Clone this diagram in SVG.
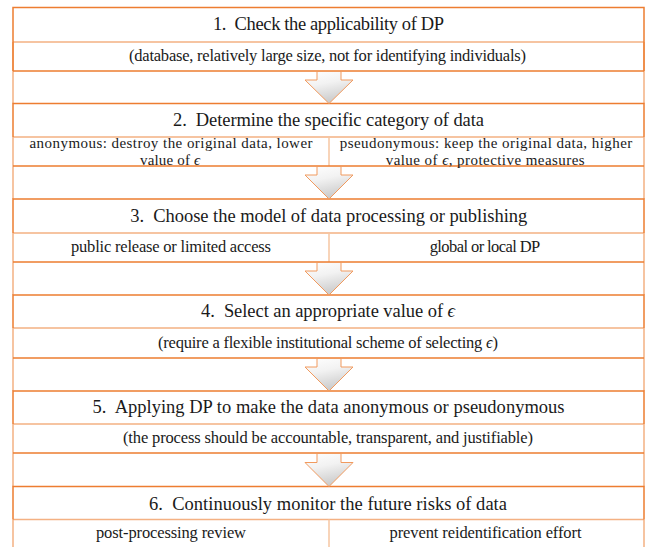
<svg xmlns="http://www.w3.org/2000/svg" width="648" height="547" viewBox="0 0 648 547">
  <style>
    text { font-family: "Liberation Serif", "DejaVu Serif", serif; fill: #1a1a1a; text-anchor: middle; }
    .h { font-size: 18.5px; }
    .s { font-size: 16.5px; }
    .s2 { font-size: 15px; }
    .e { font-style: italic; }
    .rule { stroke: #ED7D31; stroke-width: 1.5; fill: none; }
    .thin { stroke: #F4B183; stroke-width: 1.5; fill: none; }
    .div { stroke: #F6C6A2; stroke-width: 1.5; }
    .arrow { fill: url(#arrowFill); stroke: #F19A5E; stroke-width: 1; stroke-linejoin: miter; }
  </style>
  <defs>
    <linearGradient id="arrowFill" x1="0" y1="0" x2="0.3" y2="1">
      <stop offset="0" stop-color="#FFFFFF"/>
      <stop offset="0.45" stop-color="#F2F2F2"/>
      <stop offset="1" stop-color="#CCCCCC"/>
    </linearGradient>
  </defs>
  <rect width="648" height="547" fill="#FFFFFF"/>

  <!-- empty spacer rows holding the down arrows -->
  <g id="spacers" class="thin">
    <path d="M13,71V103.5M644,71V103.5"/>
    <path d="M13,166V199M644,166V199"/>
    <path d="M13,262V295M644,262V295"/>
    <path d="M13,358V391M644,358V391"/>
    <path d="M13,453V486.5M644,453V486.5"/>
  </g>

  <g id="step1">
    <path class="thin" d="M13,42V71M644,42V71M13,42H644"/>
    <path class="rule" d="M13,71V7.5H644V71M13,71H644"/>
    <text class="h" x="328.5" y="29.5" textLength="231">1.&#160; Check the applicability of DP</text>
    <text class="s" x="327.5" y="60.5" textLength="397">(database, relatively large size, not for identifying individuals)</text>
  </g>

  <g id="step2">
    <path class="thin" d="M13,137V166M644,137V166M13,137H644"/>
    <path class="div" d="M329,137V166"/>
    <path class="rule" d="M13,137V103.5H644V137M13,166H644"/>
    <text class="h" x="328.5" y="126" textLength="311">2.&#160; Determine the specific category of data</text>
    <!-- two-line cells: slightly smaller type so the lines fit the short row -->
    <text class="s2" x="171" y="147.8" textLength="283">anonymous: destroy the original data, lower</text>
    <text class="s2" x="170" y="165" textLength="60">value of <tspan class="e">ϵ</tspan></text>
    <text class="s2" x="486" y="147.8" textLength="292.6">pseudonymous: keep the original data, higher</text>
    <text class="s2" x="485.2" y="165" textLength="199">value of <tspan class="e">ϵ</tspan>, protective measures</text>
  </g>

  <g id="step3">
    <path class="thin" d="M13,233V262M644,233V262M13,233H644"/>
    <path class="div" d="M329,233V262"/>
    <path class="rule" d="M13,233V199H644V233M13,262H644"/>
    <text class="h" x="328.7" y="221.7" textLength="397">3.&#160; Choose the model of data processing or publishing</text>
    <text class="s" x="171" y="252" textLength="200">public release or limited access</text>
    <text class="s" x="485" y="252" textLength="110.6">global or local DP</text>
  </g>

  <g id="step4">
    <path class="thin" d="M13,328V358M644,328V358M13,328H644"/>
    <path class="rule" d="M13,328V295H644V328M13,358H644"/>
    <text class="h" x="328" y="317" textLength="254">4.&#160; Select an appropriate value of <tspan class="e">ϵ</tspan></text>
    <text class="s" x="328" y="348.3" textLength="340">(require a flexible institutional scheme of selecting <tspan class="e">ϵ</tspan>)</text>
  </g>

  <g id="step5">
    <path class="thin" d="M13,424V453M644,424V453M13,424H644"/>
    <path class="rule" d="M13,424V391H644V424M13,453H644"/>
    <text class="h" x="328.5" y="413.3" textLength="472">5.&#160; Applying DP to make the data anonymous or pseudonymous</text>
    <text class="s" x="328" y="443.3" textLength="410">(the process should be accountable, transparent, and justifiable)</text>
  </g>

  <g id="step6">
    <path class="thin" d="M13,519.5V548M644,519.5V548M13,519.5H644"/>
    <path class="div" d="M329,519.5V548"/>
    <path class="rule" d="M13,519.5V486.5H644V519.5"/>
    <text class="h" x="328" y="509.5" textLength="358">6.&#160; Continuously monitor the future risks of data</text>
    <text class="s" x="171" y="538.3" textLength="150">post-processing review</text>
    <text class="s" x="485.5" y="538.3" textLength="192">prevent reidentification effort</text>
  </g>

  <g id="connectors">
    <path class="arrow" d="M317,71.5H341V80H353L329,103.5L305,80H317Z"/>
    <path class="arrow" d="M317,166.5H341V175H353L329,199L305,175H317Z"/>
    <path class="arrow" d="M317,262.5H341V271H353L329,295L305,271H317Z"/>
    <path class="arrow" d="M317,358.5H341V367H353L329,391L305,367H317Z"/>
    <path class="arrow" d="M317,453.5H341V462.5H353L329,486.5L305,462.5H317Z"/>
  </g>
</svg>
